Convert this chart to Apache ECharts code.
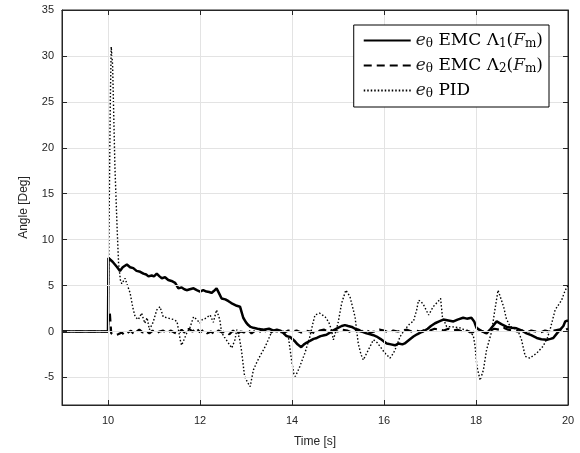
<!DOCTYPE html>
<html>
<head>
<meta charset="utf-8">
<script src="https://cdn.jsdelivr.net/npm/echarts@6/dist/echarts.min.js"></script>
<style>html,body{margin:0;padding:0;background:#fff}#c{width:580px;height:453px}</style>
</head>
<body>
<div id="c"></div>
<script>
const xTicks = [10, 12, 14, 16, 18, 20];
const yTicks = [-5, 0, 5, 10, 15, 20, 25, 30, 35];

const tEMC1 = [9,10,10.01,10.04,10.1,10.15,10.2,10.26,10.32,10.41,10.48,10.55,10.62,10.7,10.77,10.83,10.88,10.95,11.0,11.06,11.12,11.17,11.24,11.31,11.38,11.46,11.5,11.53,11.6,11.66,11.71,11.78,11.86,11.93,12.0,12.07,12.14,12.2,12.25,12.3,12.36,12.41,12.47,12.55,12.62,12.68,12.72,12.8,12.87,12.94,13.0,13.05,13.1,13.16,13.25,13.38,13.5,13.6,13.67,13.75,13.82,13.88,13.96,14.05,14.12,14.2,14.26,14.32,14.4,14.47,14.54,14.62,14.7,14.75,14.83,14.93,15.0,15.08,15.15,15.22,15.3,15.37,15.44,15.52,15.62,15.7,15.77,15.84,15.92,16.0,16.06,16.15,16.24,16.32,16.4,16.45,16.55,16.64,16.72,16.8,16.85,16.95,17.02,17.11,17.2,17.29,17.4,17.51,17.6,17.72,17.8,17.9,17.96,18.01,18.1,18.23,18.32,18.4,18.45,18.55,18.67,18.78,18.88,19.0,19.1,19.2,19.32,19.42,19.54,19.62,19.68,19.76,19.83,19.9,19.94,20.0];
const vEMC1 = [0,0,8.0,7.8,7.6,7.3,7.0,6.6,7.0,7.3,7.0,6.9,6.6,6.5,6.3,6.2,6.0,6.1,6.0,6.3,6.0,5.8,5.9,5.6,5.5,5.3,5.1,4.7,4.8,4.6,4.5,4.6,4.7,4.5,4.35,4.5,4.35,4.3,4.2,4.4,4.7,4.2,3.6,3.5,3.3,3.1,2.9,2.8,2.7,1.5,1.0,0.7,0.5,0.4,0.3,0.2,0.3,0.1,0.2,0.1,-0.2,-0.5,-0.6,-1.0,-1.4,-1.7,-1.4,-1.2,-1.0,-0.8,-0.7,-0.5,-0.4,-0.35,-0.1,0.2,0.4,0.6,0.7,0.6,0.5,0.3,0.2,0.0,-0.2,-0.3,-0.4,-0.55,-0.8,-1.1,-1.3,-1.4,-1.5,-1.3,-1.4,-1.3,-0.9,-0.55,-0.3,-0.1,0.0,0.3,0.6,0.9,1.1,1.3,1.2,1.1,1.3,1.5,1.4,1.5,1.1,0.4,0.1,-0.2,0.3,0.8,1.1,0.8,0.5,0.4,0.35,0.1,-0.2,-0.4,-0.7,-0.85,-0.9,-0.8,-0.7,-0.2,0.2,0.6,1.1,1.2];

const tEMC2 = [9,10,10.01,10.04,10.07,10.15,10.22,10.3,10.36,10.44,10.5,10.56,10.62,10.68,10.75,10.82,10.9,10.97,11.05,11.12,11.2,11.28,11.36,11.44,11.52,11.6,11.68,11.76,11.84,11.92,12.0,12.08,12.16,12.24,12.32,12.4,12.48,12.56,12.64,12.72,12.8,12.88,12.96,13.04,13.12,13.2,13.28,13.36,13.44,13.52,13.6,13.68,13.76,13.84,13.92,14.0,14.1,14.2,14.3,14.4,14.5,14.6,14.7,14.8,14.9,15.0,15.1,15.2,15.3,15.4,15.5,15.6,15.7,15.8,15.9,16.0,16.1,16.2,16.3,16.4,16.5,16.6,16.7,16.8,16.9,17.0,17.1,17.2,17.3,17.4,17.5,17.6,17.7,17.8,17.9,18.0,18.1,18.2,18.3,18.4,18.5,18.6,18.7,18.8,18.9,19.0,19.1,19.2,19.3,19.4,19.5,19.6,19.7,19.8,19.9,20.0];
const vEMC2 = [0,0,1.5,2.0,-0.2,-0.4,-0.3,-0.1,-0.4,-0.1,0.1,-0.3,0.0,0.2,-0.1,0.1,-0.2,0.1,-0.2,0.0,0.1,-0.2,0.1,-0.1,-0.3,0.2,-0.2,0.3,0.0,0.4,-0.1,0.2,-0.2,0.0,-0.3,0.1,-0.1,0.0,-0.3,0.1,-0.3,0.0,-0.1,0.2,-0.2,0.1,-0.1,0.2,0.0,-0.2,0.1,0.0,0.1,-0.1,0.1,0.0,0.1,-0.1,0.1,0.0,-0.2,0.1,0.2,-0.1,0.1,0.0,0.2,0.1,-0.1,0.1,0.0,0.2,-0.1,0.0,0.2,0.1,-0.1,0.1,0.0,0.1,0.2,0.0,0.1,0.0,0.2,0.1,0.3,0.2,0.1,0.3,0.1,0.2,0.0,0.1,-0.1,0.0,0.1,-0.1,0.1,0.3,0.2,0.4,0.2,0.1,0.0,0.1,-0.1,0.1,0.0,-0.1,0.1,0.0,0.1,0.2,0.1,0.3];

const tPID = [9,10,10.02,10.05,10.07,10.1,10.15,10.2,10.23,10.27,10.3,10.37,10.41,10.48,10.54,10.59,10.66,10.73,10.8,10.85,10.9,10.98,11.06,11.13,11.2,11.28,11.35,11.43,11.5,11.57,11.6,11.66,11.71,11.78,11.86,11.93,12.0,12.05,12.11,12.22,12.29,12.36,12.43,12.47,12.53,12.61,12.69,12.76,12.8,12.86,12.9,12.97,13.04,13.09,13.16,13.23,13.3,13.38,13.45,13.56,13.65,13.75,13.85,13.92,13.99,14.04,14.07,14.12,14.17,14.28,14.39,14.45,14.5,14.6,14.72,14.8,14.85,14.9,14.95,15.0,15.08,15.17,15.26,15.32,15.37,15.44,15.5,15.55,15.6,15.66,15.77,15.85,15.91,16.02,16.13,16.2,16.24,16.35,16.45,16.57,16.64,16.71,16.75,16.8,16.86,16.97,17.07,17.18,17.23,17.27,17.36,17.5,17.65,17.83,17.94,17.98,18.02,18.09,18.16,18.23,18.34,18.41,18.48,18.52,18.6,18.66,18.74,18.85,18.92,18.99,19.07,19.17,19.32,19.46,19.55,19.61,19.72,19.86,19.94,20.0];
const vPID = [0,0,10,25,31,29,18,11,7.4,5.6,5.2,5.8,5.2,4.2,2.6,1.6,1.3,2.0,0.9,1.5,0.2,1.0,2.35,2.7,1.6,1.5,1.4,1.3,1.1,-0.9,-1.5,-0.8,-0.2,0.4,1.6,1.3,0.9,1.3,1.4,1.8,1.0,2.35,1.3,-0.1,-0.6,-1.2,-1.8,-0.9,0.2,-0.8,-2.0,-4.9,-5.6,-6.0,-4.2,-3.4,-2.7,-2.0,-1.3,0.0,0.2,-0.1,-0.3,-0.55,-3.1,-4.6,-4.9,-4.4,-3.8,-2.35,-0.55,0.8,1.8,2.0,1.6,1.0,0.3,-0.9,0.0,0.9,3.1,4.5,3.8,2.6,1.6,-1.3,-2.5,-3.1,-2.6,-2.0,-0.9,-1.2,-1.6,-2.35,-2.9,-2.4,-2.0,-0.55,0.2,0.9,1.1,2.35,3.4,3.3,2.9,1.8,2.7,3.3,3.6,1.6,0.55,0.5,0.4,0.0,-0.4,-1.6,-3.8,-5.3,-4.2,-2.0,0.0,2.35,4.5,4.3,2.7,1.4,0.55,0.3,0.0,-0.9,-2.7,-2.9,-2.35,-1.6,-0.7,0.2,2.35,3.4,4.5,5.0];

const zip = (t, v) => t.map((x, i) => [x, v[i]]);
const axisColor = '#262626';
const gridColor = '#e3e3e3';
const labelFont = {color: axisColor, fontSize: 11, fontFamily: 'Liberation Sans, Arial, sans-serif'};
const X_MIN = 9, X_MAX = 20, Y_MIN = -8, Y_MAX = 35;

const chart = echarts.init(document.getElementById('c'), null, {renderer: 'canvas'});
const legendNames = {
  EMC1: '{i|e}{s|θ}{n| EMC Λ}{s|1}{n|(}{i|F}{s|m}{n|)}',
  EMC2: '{i|e}{s|θ}{n| EMC Λ}{s|2}{n|(}{i|F}{s|m}{n|)}',
  PID: '{i|e}{s|θ}{n| PID}'
};
function mkX(pos, withLabel) {
  return {
    type: 'value', min: X_MIN, max: X_MAX, position: pos, z: 10,
    axisLine: {show: true, onZero: false, lineStyle: {color: axisColor, width: 1}},
    axisTick: {show: true, inside: true, length: 5, customValues: xTicks, lineStyle: {color: axisColor}},
    axisLabel: withLabel ? Object.assign({show: true, margin: 10, customValues: xTicks}, labelFont) : {show: false},
    splitLine: {show: false}
  };
}
function mkY(pos, withLabel) {
  return {
    type: 'value', min: Y_MIN, max: Y_MAX, position: pos, z: 10,
    axisLine: {show: true, onZero: false, lineStyle: {color: axisColor, width: 1}},
    axisTick: {show: true, inside: true, length: 5, customValues: yTicks, lineStyle: {color: axisColor}},
    axisLabel: withLabel ? Object.assign({show: true, margin: 8, customValues: yTicks}, labelFont) : {show: false},
    splitLine: {show: false}
  };
}
const xBottom = Object.assign(mkX('bottom', true), {
  name: 'Time [s]', nameLocation: 'middle', nameGap: 31,
  nameTextStyle: Object.assign({}, labelFont, {fontSize: 12})
});
const yLeft = Object.assign(mkY('left', true), {
  name: 'Angle [Deg]', nameLocation: 'middle', nameGap: 32, nameRotate: 90,
  nameTextStyle: Object.assign({}, labelFont, {fontSize: 12})
});
const serifFam = 'DejaVu Serif, serif';
const gridMarks = xTicks.filter(v => v > X_MIN && v < X_MAX).map(v => ({xAxis: v}))
  .concat(yTicks.filter(v => v > Y_MIN && v < Y_MAX).map(v => ({yAxis: v})));
chart.setOption({
  animation: false,
  backgroundColor: '#fff',
  grid: {left: 62, right: 12, top: 10, bottom: 48, containLabel: false,
         show: true, borderColor: axisColor, borderWidth: 1, backgroundColor: 'transparent'},
  xAxis: [xBottom, mkX('top', false)],
  yAxis: [yLeft, mkY('right', false)],
  legend: {
    orient: 'vertical', right: 31, top: 25, z: 20,
    backgroundColor: '#fff', borderColor: '#000', borderWidth: 1, borderRadius: 0,
    padding: [7, 6, 7, 9], itemGap: 7, itemWidth: 47, itemHeight: 16,
    data: ['EMC1', 'EMC2', 'PID'],
    itemStyle: {opacity: 0},
    formatter: n => legendNames[n],
    textStyle: {
      color: '#000', fontSize: 17, fontFamily: serifFam,
      rich: {
        i: {fontFamily: serifFam, fontStyle: 'italic', fontSize: 17, color: '#222'},
        n: {fontFamily: serifFam, fontSize: 17, color: '#000'},
        s: {fontFamily: serifFam, fontSize: 12, color: '#000', padding: [7, 0, 0, 0]}
      }
    }
  },
  series: [
    {name: 'grid', type: 'line', data: [[X_MIN, 0], [X_MAX, 0]], silent: true, z: 0,
     symbol: 'none', lineStyle: {opacity: 0},
     markLine: {
       silent: true, symbol: ['none', 'none'], animation: false,
       label: {show: false},
       lineStyle: {color: gridColor, width: 1, type: 'solid'},
       emphasis: {disabled: true},
       data: gridMarks
     }},
    {name: 'PID', type: 'line', data: zip(tPID, vPID), symbol: 'none', z: 2,
     lineStyle: {color: '#000', width: 1.4, type: [1.5, 2]}, itemStyle: {color: '#000'}},
    {name: 'EMC2', type: 'line', data: zip(tEMC2, vEMC2), symbol: 'none', z: 3,
     lineStyle: {color: '#000', width: 2.2, type: [8, 5]}, itemStyle: {color: '#000'}},
    {name: 'EMC1', type: 'line', data: zip(tEMC1, vEMC1), symbol: 'none', z: 4,
     lineStyle: {color: '#000', width: 2.5, type: 'solid'}, itemStyle: {color: '#000'}}
  ]
});
</script>
</body>
</html>
